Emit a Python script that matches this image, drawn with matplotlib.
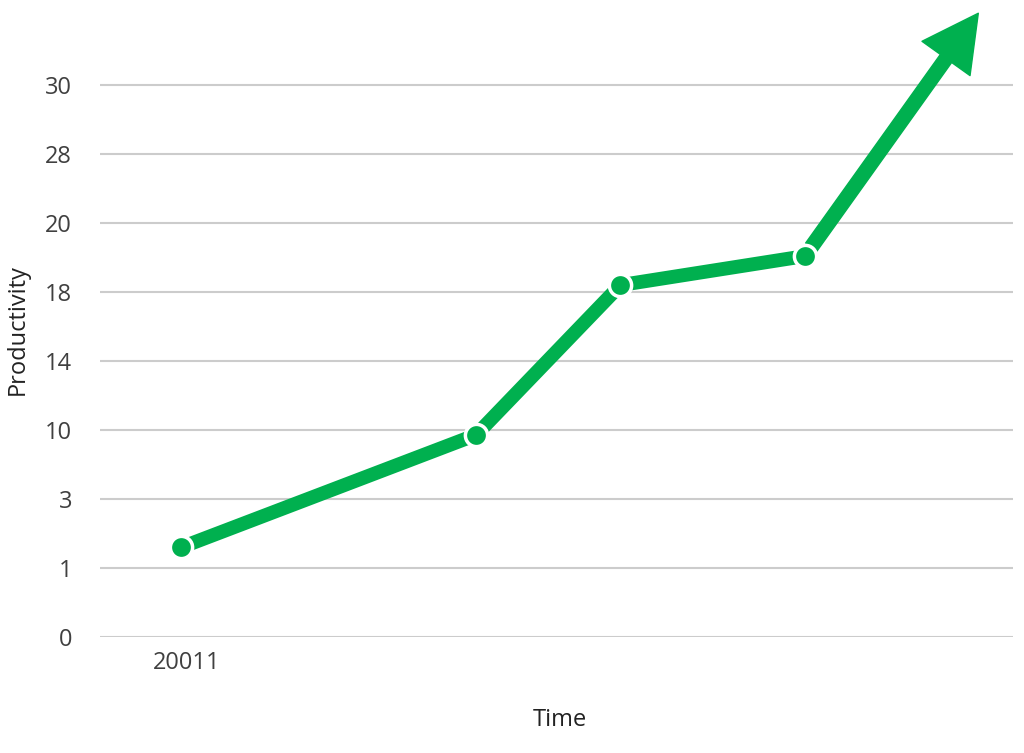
import matplotlib.pyplot as plt

plt.rcParams['font.family'] = ['Open Sans', 'DejaVu Sans']

# data (y in gridline-step units, labels as printed)
time_pos = [0.89, 4.12, 5.70, 7.72]
productivity = [1.30, 2.93, 5.10, 5.52]
arrow_tip = (9.62, 9.04)
y_ticks = [0, 1, 2, 3, 4, 5, 6, 7, 8]
y_labels = ['0', '1', '3', '10', '14', '18', '20', '28', '30']
x_ticks = [0.95]
x_labels = ['20011']

green = '#00b04f'
text_col = '#404040'

fig = plt.figure(figsize=(10.24, 7.53), dpi=100)
ax = fig.add_axes([100 / 1024, 116 / 753, 913 / 1024, 637 / 753])
ax.set_xlim(0, 10)
ax.set_ylim(0, 637 / 69)

ax.set_yticks(y_ticks)
ax.set_yticklabels(y_labels)
ax.set_xticks(x_ticks)
ax.set_xticklabels(x_labels)
ax.tick_params(axis='y', length=0, pad=20, labelsize=17, labelcolor=text_col)
ax.tick_params(axis='x', length=0, pad=10, labelsize=17, labelcolor=text_col)
ax.grid(axis='y', color='#cccccc', linewidth=1.5)
ax.set_axisbelow(True)
for s in ax.spines.values():
    s.set_visible(False)

ax.plot(time_pos, productivity, color=green, linewidth=10, solid_capstyle='butt', zorder=2)
ax.annotate('', xy=arrow_tip, xytext=(time_pos[-1], productivity[-1]),
            arrowprops=dict(arrowstyle='simple,head_length=1.6,head_width=1.7,tail_width=0.4',
                            mutation_scale=25, color=green, shrinkA=8, shrinkB=0),
            zorder=2)
ax.plot(time_pos, productivity, 'o', color=green, markersize=16,
        markeredgecolor='white', markeredgewidth=2.5, zorder=3)

fig.text(560 / 1024, 1 - 720 / 753, 'Time', ha='center', va='center', fontsize=17, color='#222222')
fig.text(18 / 1024, 1 - 330 / 753, 'Productivity', ha='center', va='center', rotation=90,
         fontsize=17, color='#222222')

fig.savefig('out.png', dpi=100)
